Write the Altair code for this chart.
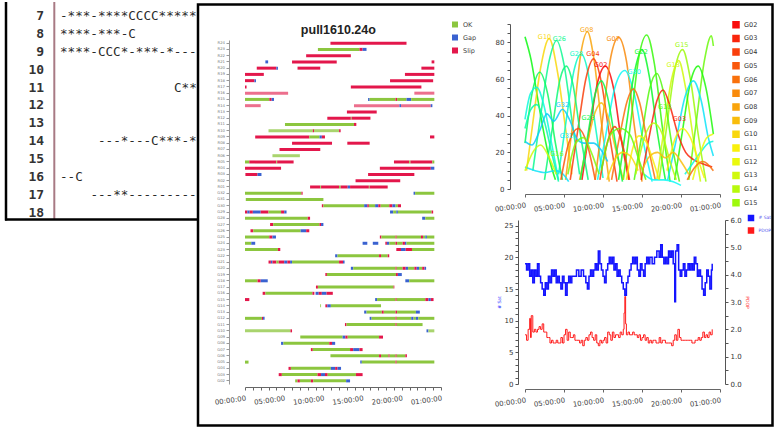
import altair as alt
import pandas as pd
import colorsys

# ---------------- background editor window ----------------
editor_numbers = [6, 7, 8, 9, 10, 11, 12, 13, 14, 15, 16, 17, 18]
editor_rows = [7, 8, 9, 11, 14, 16, 17]
editor_cols = [0, 0, 0, 15, 5, 0, 4]
editor_texts = ["-***-****CCCC*****-***", "****-***-C", "****-CCC*-***-*----",
                "C***-", "---*---C***-*-", "--C", "---**-----------"]

# ---------------- observation status chart ----------------
gantt_rows = ["R24", "R23", "R22", "R21", "R20", "R19", "R18", "R17", "R16", "R15", "R14", "R13",
              "R12", "R11", "R10", "R09", "R08", "R07", "R06", "R05", "R04", "R03", "R02", "R01",
              "G32", "G31", "G30", "G29", "G28", "G27", "G26", "G25", "G24", "G23", "G22", "G21",
              "G20", "G19", "G18", "G17", "G16", "G15", "G14", "G13", "G12", "G11", "G10", "G09",
              "G08", "G07", "G06", "G05", "G04", "G03", "G02"]
status_codes = {"O": "OK", "G": "Gap", "S": "Slip", "K": "OK-l", "L": "Slip-l"}
status_domain = ["OK", "Gap", "Slip", "OK-l", "Slip-l"]
status_colors = ["#8cc63f", "#3a62d0", "#e3174b", "#a9d46e", "#ec6f8d"]

r_segments = [
    ("R24", 10.9, 20.6, "S"),
    ("R23", 9.3, 14.6, "O"), ("R23", 14.6, 15.0, "S"), ("R23", 15.0, 15.5, "G"),
    ("R22", 7.8, 13.5, "S"),
    ("R21", 2.6, 2.95, "G"), ("R21", 6.0, 11.7, "S"), ("R21", 23.8, 24.15, "S"),
    ("R20", 1.5, 4.0, "S"), ("R20", 4.0, 4.2, "G"), ("R20", 6.7, 9.6, "S"), ("R20", 22.5, 24.15, "S"),
    ("R19", 0, 2.4, "S"), ("R19", 20.4, 24.15, "S"),
    ("R18", 0, 1.2, "S"), ("R18", 1.2, 1.4, "G"), ("R18", 18.5, 24.0, "S"),
    ("R17", 0, 0.2, "S"), ("R17", 13.5, 22.5, "S"),
    ("R16", 0, 5.5, "L"), ("R16", 21.6, 24.15, "L"),
    ("R15", 0, 3.1, "O"), ("R15", 3.1, 3.4, "S"), ("R15", 3.4, 3.7, "G"), ("R15", 15.7, 15.9, "G"),
    ("R15", 15.9, 19.2, "O"), ("R15", 19.2, 19.4, "S"), ("R15", 19.4, 20.6, "O"), ("R15", 20.6, 21.2, "G"),
    ("R15", 21.2, 24.15, "O"),
    ("R14", 0, 2.0, "L"), ("R14", 13.9, 19.7, "L"), ("R14", 19.7, 19.9, "G"), ("R14", 19.9, 23.7, "L"),
    ("R14", 23.7, 23.9, "G"),
    ("R13", 13.0, 16.8, "S"),
    ("R12", 10.5, 13.5, "S"), ("R12", 13.5, 13.6, "O"), ("R12", 13.6, 16.0, "S"),
    ("R11", 5.1, 13.9, "O"), ("R11", 13.9, 14.2, "S"),
    ("R10", 3.0, 8.65, "K"), ("R10", 8.65, 8.8, "S"), ("R10", 8.8, 12.0, "K"), ("R10", 12.0, 12.2, "S"),
    ("R09", 1.3, 8.2, "S"), ("R09", 8.2, 9.5, "O"), ("R09", 9.5, 9.8, "G"), ("R09", 9.8, 10.2, "S"),
    ("R09", 23.6, 24.15, "S"),
    ("R08", 6.0, 11.1, "S"), ("R08", 13.05, 15.9, "S"),
    ("R07", 4.4, 9.6, "S"),
    ("R06", 3.5, 7.0, "K"),
    ("R05", 0, 0.55, "O"), ("R05", 0.55, 4.0, "S"), ("R05", 4.0, 4.1, "O"), ("R05", 4.1, 6.2, "S"),
    ("R05", 19.0, 20.95, "S"), ("R05", 20.95, 21.1, "O"), ("R05", 21.1, 23.9, "S"), ("R05", 23.9, 24.15, "O"),
    ("R04", 0, 4.6, "S"), ("R04", 17.2, 23.7, "S"), ("R04", 23.7, 24.15, "G"),
    ("R03", 0.05, 1.6, "S"), ("R03", 1.6, 2.1, "G"), ("R03", 15.7, 21.6, "S"),
    ("R02", 14.1, 19.8, "S"),
    ("R01", 8.3, 9.6, "S"), ("R01", 9.6, 9.7, "O"), ("R01", 9.7, 12.0, "S"), ("R01", 12.0, 12.2, "O"),
    ("R01", 12.2, 13.1, "S"), ("R01", 13.1, 13.4, "G"), ("R01", 13.4, 15.8, "S"), ("R01", 15.8, 15.9, "O"),
    ("R01", 15.9, 18.2, "S"),
]
g_segments = [
    ("G32", 0, 7.2, "O"), ("G32", 7.2, 7.35, "S"), ("G32", 21.5, 21.7, "G"), ("G32", 21.7, 24.15, "O"),
    ("G31", 0.1, 10.0, "O"),
    ("G30", 9.8, 10.0, "S"), ("G30", 10.0, 15.2, "O"), ("G30", 15.2, 15.6, "G"), ("G30", 15.6, 15.8, "S"),
    ("G30", 15.8, 16.6, "O"), ("G30", 16.6, 17.0, "G"), ("G30", 17.0, 17.3, "S"), ("G30", 17.3, 18.4, "O"),
    ("G30", 18.4, 18.8, "S"), ("G30", 18.8, 19.2, "G"), ("G30", 19.2, 19.5, "O"), ("G30", 19.5, 19.9, "S"),
    ("G29", 0, 0.3, "S"), ("G29", 0.3, 0.6, "G"), ("G29", 0.6, 1.0, "S"), ("G29", 1.0, 2.0, "G"),
    ("G29", 2.0, 3.0, "S"), ("G29", 3.0, 4.6, "O"), ("G29", 4.6, 5.0, "S"), ("G29", 5.0, 5.3, "G"),
    ("G29", 18.5, 18.9, "G"), ("G29", 18.9, 19.3, "O"), ("G29", 19.3, 19.5, "G"), ("G29", 19.5, 23.8, "O"),
    ("G29", 23.8, 24.0, "S"),
    ("G28", 0, 8.0, "O"), ("G28", 8.0, 8.3, "S"), ("G28", 22.6, 23.0, "G"), ("G28", 23.0, 24.15, "O"),
    ("G27", 3.2, 3.6, "S"), ("G27", 3.6, 9.5, "O"), ("G27", 9.5, 9.7, "S"), ("G27", 9.7, 10.0, "G"),
    ("G26", 0.7, 1.05, "S"), ("G26", 1.05, 7.1, "O"), ("G26", 7.1, 7.8, "G"), ("G26", 7.8, 8.2, "S"),
    ("G25", 0, 3.1, "O"), ("G25", 3.1, 3.5, "S"), ("G25", 3.5, 3.95, "G"), ("G25", 17.2, 17.4, "S"),
    ("G25", 17.4, 19.2, "O"), ("G25", 19.2, 19.35, "S"), ("G25", 19.35, 22.45, "O"), ("G25", 22.45, 22.7, "S"),
    ("G25", 22.7, 23.0, "O"), ("G25", 23.0, 23.2, "G"), ("G25", 23.2, 24.15, "O"),
    ("G24", 0, 0.8, "O"), ("G24", 0.8, 1.3, "G"), ("G24", 15.0, 15.6, "G"), ("G24", 16.3, 17.0, "G"),
    ("G24", 17.9, 18.1, "S"), ("G24", 18.1, 18.4, "G"), ("G24", 18.4, 19.2, "O"), ("G24", 19.2, 19.4, "S"),
    ("G24", 19.4, 20.1, "O"), ("G24", 20.1, 20.4, "S"), ("G24", 20.4, 20.6, "G"), ("G24", 20.6, 24.15, "O"),
    ("G23", 0, 4.2, "O"), ("G23", 4.2, 4.5, "S"), ("G23", 19.3, 19.9, "S"), ("G23", 19.9, 20.5, "G"),
    ("G23", 20.5, 21.3, "S"), ("G23", 21.3, 24.15, "O"),
    ("G22", 11.5, 11.8, "G"), ("G22", 11.8, 17.1, "O"), ("G22", 17.1, 17.35, "S"), ("G22", 17.35, 18.2, "O"),
    ("G22", 18.2, 18.4, "S"),
    ("G21", 3.0, 3.3, "S"), ("G21", 3.3, 3.5, "G"), ("G21", 3.5, 4.0, "S"), ("G21", 4.0, 4.3, "O"),
    ("G21", 4.3, 5.0, "S"), ("G21", 5.0, 5.4, "G"), ("G21", 5.4, 5.75, "S"), ("G21", 5.75, 6.0, "G"),
    ("G21", 6.0, 12.0, "O"), ("G21", 12.0, 12.5, "S"), ("G21", 12.5, 12.7, "G"),
    ("G20", 13.5, 13.8, "G"), ("G20", 13.8, 19.2, "O"), ("G20", 19.2, 19.35, "S"), ("G20", 19.35, 20.1, "O"),
    ("G20", 20.1, 20.5, "S"), ("G20", 20.5, 20.8, "G"), ("G20", 20.8, 21.6, "O"), ("G20", 21.6, 21.9, "S"),
    ("G20", 21.9, 22.2, "G"), ("G20", 22.2, 22.6, "O"), ("G20", 22.6, 22.9, "S"), ("G20", 22.9, 23.1, "G"),
    ("G19", 10.25, 10.45, "S"), ("G19", 10.45, 19.25, "O"), ("G19", 19.25, 19.5, "S"), ("G19", 19.5, 20.0, "G"),
    ("G18", 0, 1.6, "O"), ("G18", 1.6, 2.0, "S"), ("G18", 2.0, 2.9, "G"), ("G18", 20.45, 20.95, "G"),
    ("G18", 20.95, 24.15, "O"),
    ("G17", 9.05, 9.3, "S"), ("G17", 9.3, 18.95, "O"), ("G17", 18.95, 19.05, "S"),
    ("G16", 2.25, 2.6, "S"), ("G16", 2.6, 8.6, "O"), ("G16", 8.6, 8.85, "S"), ("G16", 9.0, 9.4, "G"),
    ("G16", 9.4, 9.8, "S"), ("G16", 9.8, 10.4, "G"), ("G16", 10.4, 11.2, "S"),
    ("G15", 0, 0.55, "S"), ("G15", 16.6, 16.85, "G"), ("G15", 16.85, 19.2, "O"), ("G15", 19.2, 19.35, "S"),
    ("G15", 19.35, 23.0, "O"), ("G15", 23.0, 23.4, "S"), ("G15", 23.4, 23.7, "G"), ("G15", 23.7, 24.05, "S"),
    ("G14", 9.6, 9.7, "O"), ("G14", 10.25, 10.5, "S"), ("G14", 10.5, 10.95, "G"), ("G14", 10.95, 17.35, "O"),
    ("G13", 15.2, 15.5, "G"), ("G13", 15.5, 17.45, "O"), ("G13", 17.45, 17.7, "S"), ("G13", 17.7, 19.2, "O"),
    ("G13", 19.2, 19.4, "S"), ("G13", 19.4, 21.8, "O"), ("G13", 21.8, 22.3, "G"),
    ("G12", 0, 2.15, "O"), ("G12", 2.15, 2.3, "S"), ("G12", 2.3, 2.5, "G"), ("G12", 15.9, 16.15, "G"),
    ("G12", 16.15, 19.2, "O"), ("G12", 19.2, 19.35, "S"), ("G12", 19.35, 21.2, "O"), ("G12", 21.2, 21.5, "G"),
    ("G12", 21.5, 21.8, "O"), ("G12", 21.8, 22.1, "G"), ("G12", 22.1, 24.15, "O"),
    ("G11", 12.75, 12.95, "S"), ("G11", 12.95, 19.2, "O"), ("G11", 19.2, 19.35, "S"), ("G11", 19.35, 22.65, "O"),
    ("G10", 0, 5.8, "K"), ("G10", 5.8, 6.0, "S"), ("G10", 23.15, 23.4, "G"), ("G10", 23.4, 24.15, "K"),
    ("G09", 7.05, 12.45, "O"), ("G09", 12.45, 12.8, "G"), ("G09", 12.8, 13.1, "S"), ("G09", 13.1, 17.1, "O"),
    ("G09", 17.1, 17.6, "S"),
    ("G08", 4.6, 4.9, "G"), ("G08", 4.9, 10.75, "O"), ("G08", 10.75, 11.1, "S"), ("G08", 11.1, 11.5, "G"),
    ("G07", 8.4, 8.65, "S"), ("G07", 8.65, 13.4, "O"), ("G07", 13.4, 13.8, "S"), ("G07", 13.8, 14.6, "G"),
    ("G07", 14.6, 15.0, "S"),
    ("G06", 10.9, 17.1, "O"), ("G06", 17.1, 17.35, "S"), ("G06", 17.35, 18.3, "O"), ("G06", 18.3, 18.45, "S"),
    ("G06", 18.45, 19.2, "O"), ("G06", 19.2, 19.35, "S"), ("G06", 19.35, 20.45, "O"), ("G06", 20.45, 20.65, "S"),
    ("G05", 0, 0.45, "O"), ("G05", 14.7, 14.9, "G"), ("G05", 14.9, 19.2, "O"), ("G05", 19.2, 19.35, "S"),
    ("G05", 19.35, 24.15, "O"),
    ("G04", 5.55, 5.85, "S"), ("G04", 5.85, 10.95, "O"), ("G04", 10.95, 11.5, "G"), ("G04", 11.5, 11.8, "S"),
    ("G04", 11.8, 12.25, "G"),
    ("G03", 4.3, 4.7, "S"), ("G03", 4.7, 9.25, "O"), ("G03", 9.25, 9.7, "S"), ("G03", 9.7, 10.2, "G"),
    ("G03", 10.2, 10.55, "S"), ("G03", 10.55, 14.15, "O"), ("G03", 14.15, 15.0, "S"),
    ("G02", 6.4, 6.7, "O"), ("G02", 6.7, 7.0, "S"), ("G02", 7.0, 8.4, "O"), ("G02", 8.4, 8.7, "S"),
    ("G02", 8.7, 12.9, "O"), ("G02", 12.9, 13.4, "G"),
]

# ---------------- elevation chart ----------------
sat_names = ["G02", "G03", "G04", "G05", "G06", "G07", "G08", "G09", "G10", "G11", "G12", "G13", "G14",
             "G15", "G16", "G17", "G18", "G19", "G20", "G21", "G22", "G23", "G24", "G25", "G26", "G27",
             "G28", "G29", "G30", "G31", "G32"]
legend_sats = ["G02", "G03", "G04", "G05", "G06", "G07", "G08", "G09", "G10", "G11", "G12", "G13", "G14", "G15"]
sky_passes = [
    ("G21", [(0, 83), (0.8, 70), (1.6, 50), (2.4, 31), (3.2, 15), (3.9, 5)]),
    ("G10", [(0.2, 10), (1.0, 36), (2.0, 66), (3.1, 82), (4.2, 63), (5.2, 33), (6.0, 8)]),
    ("G26", [(1.0, 10), (2.0, 40), (3.1, 70), (4.06, 81), (5.0, 68), (6.0, 38), (7.0, 8)]),
    ("G28", [(4.3, 8), (5.3, 38), (6.3, 65), (7.2, 73.6), (8.1, 63), (9.0, 35), (10.0, 6)]),
    ("G08", [(5.2, 5), (6.2, 38), (7.2, 75), (8.0, 85.8), (8.8, 72), (9.8, 36), (10.8, 4)]),
    ("G04", [(5.8, 5), (6.8, 33), (7.8, 60), (8.8, 71), (9.8, 58), (10.8, 30), (11.8, 4)]),
    ("G02", [(7.3, 5), (8.3, 33), (9.3, 58), (10.3, 67), (11.3, 56), (12.3, 28), (13.3, 5)]),
    ("G07", [(9.0, 5), (10.0, 40), (11.0, 72), (12.0, 82.7), (13.0, 70), (14.0, 35), (15.0, 4)]),
    ("G30", [(9.3, 5), (10.3, 28), (11.5, 55), (12.8, 64.6), (14.0, 52), (15.2, 25), (16.3, 4)]),
    ("G22", [(12.0, 5), (13.0, 35), (14.0, 63), (15.0, 76), (16.0, 60), (17.0, 30), (18.0, 5)]),
    ("G19", [(12.6, 5), (13.6, 38), (14.6, 72), (15.6, 84), (16.6, 68), (17.6, 34), (18.6, 4)]),
    ("G15", [(17.2, 5), (18.2, 35), (19.2, 65), (20.2, 76), (21.2, 60), (22.2, 30), (23.2, 4)]),
    ("G13", [(16.9, 5), (17.8, 32), (18.8, 60), (19.7, 70), (20.6, 55), (21.6, 27), (22.5, 4)]),
    ("G17", [(21.0, 5), (22.0, 38), (23.0, 70), (23.9, 83.6), (24.15, 78)]),
    ("G20", [(19.2, 5), (20.2, 32), (21.2, 58), (22.2, 67), (23.2, 55), (24.15, 30)]),
    ("G31", [(18.3, 5), (19.3, 25), (20.5, 50), (21.6, 59), (22.6, 48), (23.5, 28), (24.15, 18)]),
    ("G18", [(14.0, 5), (15.0, 30), (16.0, 55), (16.9, 63), (17.8, 52), (18.8, 25), (19.8, 4)]),
    ("G03", [(14.9, 5), (15.9, 28), (16.9, 48), (17.7, 54), (18.6, 45), (19.6, 30), (20.6, 20), (21.6, 16),
             (22.6, 14), (24.0, 12)]),
    ("G06", [(11.1, 5), (12.1, 28), (13.1, 48), (13.9, 54.6), (14.7, 47), (15.7, 25), (16.7, 5)]),
    ("G09", [(7.0, 5), (8.0, 25), (9.0, 42), (9.8, 47), (10.6, 40), (11.6, 22), (12.6, 5)]),
    ("G23", [(7.1, 5), (8.0, 28), (9.0, 52), (9.8, 59), (10.6, 50), (11.6, 25), (12.5, 4)]),
    ("G25", [(2.5, 5), (3.5, 33), (4.5, 60), (5.3, 67), (6.1, 58), (7.1, 30), (8.1, 5)]),
    ("G24", [(0, 25), (0.9, 52), (1.9, 63.7), (2.9, 52), (3.9, 25), (4.8, 5)]),
    ("G29", [(0, 38), (0.7, 52), (1.5, 55.5), (2.4, 46), (3.4, 25), (4.3, 5)]),
    ("G27", [(0, 33), (0.7, 43), (1.5, 46), (2.4, 38), (3.4, 20), (4.3, 4)]),
    ("G32", [(0, 26), (0.9, 24), (1.9, 32), (2.8, 41), (3.7, 37), (4.8, 43.5), (5.8, 37), (6.7, 27),
             (7.6, 25), (8.8, 25), (9.8, 21), (10.6, 15)]),
    ("G31", [(0, 12), (1.3, 10), (2.6, 9), (3.9, 10), (4.9, 8), (5.6, 4)]),
    ("G30", [(15.3, 8), (16.5, 5), (17.8, 5), (19.0, 4), (20.0, 2)]),
    ("G29", [(20.5, 8), (21.5, 14), (22.5, 20), (23.5, 25), (24.15, 26)]),
    ("G05", [(4.6, 5), (5.6, 25), (6.8, 33), (8.0, 24), (9.0, 5)]),
    ("G04", [(9.6, 5), (10.6, 26), (11.5, 34), (12.4, 26), (13.4, 5)]),
    ("G11", [(13.0, 5), (13.8, 22), (14.6, 29), (15.5, 26), (16.3, 17), (17.2, 5)]),
    ("G11", [(18.2, 10), (19.2, 27), (20.2, 33), (21.2, 28), (22.2, 16), (23.0, 6)]),
    ("G14", [(14.2, 8), (15.3, 28), (16.5, 36), (17.6, 30), (18.6, 15), (19.4, 5)]),
    ("G09", [(15.0, 10), (16.0, 18), (17.0, 20), (18.0, 17), (19.0, 20), (20.0, 15), (21.0, 8)]),
    ("G12", [(21.5, 5), (22.5, 20), (23.3, 28), (24.15, 30)]),
    ("G16", [(5.5, 8), (6.5, 25), (7.5, 28), (8.5, 20), (9.5, 8)]),
    ("G06", [(20.8, 5), (21.8, 12), (22.8, 15), (24.15, 10)]),
    ("G10", [(10.5, 5), (11.5, 16), (12.5, 20), (13.5, 18), (14.5, 10)]),
    ("G13", [(0, 10), (1.0, 20), (2.0, 24), (3.0, 18), (4.0, 8)]),
    ("G17", [(9.8, 10), (11.0, 30), (12.2, 33), (13.4, 30), (14.6, 16), (15.5, 5)]),
]
sky_label_sats = ["G10", "G26", "G08", "G28", "G04", "G07", "G02", "G30", "G22", "G15", "G13",
                  "G32", "G23", "G31", "G16", "G18", "G03"]
sky_label_h = [2.5, 4.4, 7.9, 6.6, 8.7, 11.3, 9.7, 14.0, 14.9, 20.1, 19.0, 4.8, 8.1, 5.3, 4.1, 17.9, 19.8]
sky_label_e = [83, 82, 87, 73.5, 73.5, 82, 67.5, 64, 74.5, 78.5, 67.5, 46, 39, 29, 19, 45, 38]

# ---------------- satellites / PDOP chart ----------------
nsat_h = [0.0, 0.2, 0.4, 0.6, 0.8, 1.0, 1.2, 1.4, 1.6, 1.8, 2.0, 2.2, 2.4, 2.6, 2.8, 3.0, 3.2, 3.4, 3.6,
          3.8, 4.0, 4.2, 4.4, 4.6, 4.8, 5.0, 5.2, 5.4, 5.6, 5.8, 6.0, 6.3, 6.6, 6.9, 7.2, 7.5, 7.8, 8.0,
          8.2, 8.4, 8.6, 8.8, 9.0, 9.2, 9.4, 9.6, 9.8, 10.0, 10.2, 10.4, 10.6, 10.8, 11.0, 11.2, 11.4,
          11.6, 11.8, 12.0, 12.2, 12.4, 12.6, 12.8, 13.0, 13.2, 13.4, 13.6, 13.8, 14.0, 14.2, 14.4, 14.6,
          14.8, 15.0, 15.2, 15.4, 15.6, 15.8, 16.0, 16.3, 16.6, 16.9, 17.2, 17.4, 17.6, 17.8, 18.0, 18.2,
          18.4, 18.6, 18.8, 19.0, 19.2, 19.3, 19.5, 19.7, 19.9, 20.1, 20.3, 20.5, 20.7, 20.9, 21.1, 21.3,
          21.5, 21.7, 21.9, 22.1, 22.3, 22.5, 22.7, 22.9, 23.1, 23.3, 23.5, 23.7, 23.9, 24.0]
nsat_v = [19, 18, 19, 17, 18, 16, 18, 17, 19, 17, 16, 15, 14, 16, 15, 17, 16, 18, 17,
          18, 16, 17, 16, 15, 17, 16, 14, 16, 17, 16, 17, 17, 18, 17, 18, 17, 16, 15,
          17, 18, 17, 18, 19, 18, 21, 19, 18, 17, 16, 18, 19, 20, 19, 20, 18,
          19, 17, 18, 17, 16, 15, 14, 16, 17, 18, 19, 20, 19, 20, 18, 17,
          19, 18, 17, 19, 20, 19, 20, 19, 20, 21, 20, 22, 20, 19, 20, 19,
          21, 20, 21, 19, 13, 21, 22, 18, 17, 18, 19, 17, 18, 19, 18, 19,
          18, 20, 19, 17, 18, 17, 15, 14, 16, 18, 17, 15, 18, 19]
pdop_h = [0.0, 0.2, 0.4, 0.6, 0.7, 0.8, 1.0, 1.2, 1.4, 1.6, 1.8, 2.0, 2.2, 2.4, 2.6, 2.8, 3.0, 3.2, 3.4,
          3.6, 3.8, 4.0, 4.2, 4.4, 4.6, 4.8, 5.0, 5.2, 5.4, 5.6, 5.8, 6.0, 6.2, 6.4, 6.6, 6.8, 7.0, 7.2,
          7.4, 7.6, 7.8, 8.0, 8.2, 8.4, 8.6, 8.8, 9.0, 9.2, 9.4, 9.6, 9.8, 10.0, 10.2, 10.4, 10.6, 10.8,
          11.0, 11.2, 11.4, 11.6, 11.8, 12.0, 12.2, 12.4, 12.6, 12.7, 12.8, 12.9, 13.0, 13.2, 13.4, 13.6,
          13.8, 14.0, 14.2, 14.4, 14.6, 14.8, 15.0, 15.2, 15.4, 15.6, 15.8, 16.0, 16.2, 16.4, 16.6, 16.8,
          17.0, 17.2, 17.4, 17.6, 17.8, 18.0, 18.2, 18.4, 18.6, 18.8, 19.0, 19.2, 19.4, 19.6, 19.8, 20.0,
          20.2, 20.4, 20.6, 20.8, 21.0, 21.2, 21.4, 21.6, 21.8, 22.0, 22.2, 22.4, 22.6, 22.8, 23.0, 23.2,
          23.4, 23.6, 23.8, 24.0]
pdop_v = [1.8, 1.6, 2.0, 2.4, 1.7, 2.5, 1.9, 2.0, 1.9, 2.0, 2.1, 2.0, 2.2, 1.9, 1.9, 1.7, 1.7, 1.5, 1.6,
          1.5, 1.5, 1.6, 1.5, 1.5, 1.7, 1.5, 1.8, 2.0, 1.6, 1.9, 1.7, 1.7, 1.8, 1.6, 1.6, 1.6, 1.5, 1.6,
          1.4, 1.6, 1.7, 1.6, 1.8, 1.9, 1.7, 1.6, 1.8, 1.5, 1.4, 1.6, 1.5, 1.6, 1.7, 1.5, 1.9, 1.8,
          1.6, 1.9, 1.7, 1.8, 1.8, 1.7, 1.9, 1.8, 2.0, 2.6, 3.2, 2.2, 1.8, 1.9, 1.8, 1.8,
          1.9, 1.8, 1.8, 1.7, 1.8, 1.6, 1.7, 1.8, 1.6, 1.7, 1.5, 1.6, 1.5, 1.6, 1.6, 1.5,
          1.5, 1.7, 1.5, 1.6, 1.6, 1.5, 1.5, 1.5, 1.5, 1.4, 1.6, 1.8, 1.6, 2.0, 1.7, 1.6,
          1.6, 1.6, 1.6, 1.6, 1.6, 1.6, 1.5, 1.5, 1.6, 1.6, 1.7, 1.6, 1.7, 1.9, 1.7, 1.8,
          1.7, 1.9, 1.8, 2.0]

# ============== build tables ==============
ed_df = pd.DataFrame({"line": editor_rows, "col": editor_cols, "text": editor_texts})
num_df = pd.DataFrame({"line": editor_numbers, "col": [-2.1] * len(editor_numbers),
                       "label": [str(n) for n in editor_numbers]})
sep_df = pd.DataFrame({"col": [-0.75]})
one = pd.DataFrame({"k": [0]})

seg = r_segments + g_segments
gdf = pd.DataFrame({"row": [s[0] for s in seg], "start": [s[1] for s in seg],
                    "end": [s[2] for s in seg], "status": [status_codes[s[3]] for s in seg]})

sky_rows = []
for pid, (sat, pts) in enumerate(sky_passes):
    for h, e in pts:
        sky_rows.append({"sat": sat, "pass": pid, "h": h, "e": e})
sky_df = pd.DataFrame(sky_rows)
lbl_df = pd.DataFrame({"sat": sky_label_sats, "h": sky_label_h, "e": sky_label_e})
# legend-only keys, placed outside the plot and clipped away
leg_df = pd.DataFrame({"sat": legend_sats, "h": [-10.0] * len(legend_sats), "e": [-250.0] * len(legend_sats)})


def hsv_hex(i):
    r, g, b = colorsys.hsv_to_rgb((i * 6.4) / 360.0, 0.95, 0.98)
    return "#%02x%02x%02x" % (int(r * 255), int(g * 255), int(b * 255))


sat_colors = [hsv_hex(i) for i in range(len(sat_names))]

nsat_df = pd.DataFrame({"h": nsat_h, "v": nsat_v, "series": "# Sat"})
pdop_df = pd.DataFrame({"h": pdop_h, "v": pdop_v, "series": "PDOP"})
dop_leg_df = pd.DataFrame({"series": ["# Sat", "PDOP"], "h": [-10.0, -10.0], "v": [-50.0, -50.0]})

TIME_EXPR = ("datum.value % 5 == 0 ? (datum.value == 25 ? '01:00:00' : "
             "(datum.value < 10 ? '0' : '') + datum.value + ':00:00') : ''")
TIME_EXPR5 = "datum.value == 25 ? '01:00:00' : (datum.value < 10 ? '0' : '') + datum.value + ':00:00'"


def time_axis(offset):
    return alt.Axis(title=None, values=list(range(26)), labelExpr=TIME_EXPR,
                    labelAngle=352, labelAlign="right", labelBaseline="top", labelFontSize=7,
                    labelColor="#444", labelOverlap=False, labelFlush=False, labelPadding=4, tickSize=3,
                    tickColor="#666", domainColor="#666", offset=offset, grid=False)


def time_axis5(offset):
    return alt.Axis(title=None, values=[0, 5, 10, 15, 20, 25], labelExpr=TIME_EXPR5,
                    labelAngle=352, labelAlign="right", labelBaseline="top", labelFontSize=7,
                    labelColor="#444", labelOverlap=False, labelFlush=False, labelPadding=4, tickSize=3,
                    tickColor="#666", domainColor="#666", offset=offset, grid=False)


def time_scale(width):
    return alt.Scale(domain=[0, 25], range=[0, width], nice=False, zero=False)


# ============== editor panel (x 0..196, y 0..217) ==============
ed_x = alt.Scale(domain=[-7.895, 17.895], nice=False, zero=False)
ed_y = alt.Scale(domain=[6.217, 18.353], nice=False, zero=False, reverse=True)
ed_text = alt.Chart(ed_df).mark_text(align="left", baseline="middle", font="DejaVu Sans Mono",
                                     fontSize=12.6, color="#2a2a2a", clip=True).encode(
    x=alt.X("col:Q", scale=ed_x, axis=None),
    y=alt.Y("line:Q", scale=ed_y, axis=None),
    text="text:N")
ed_nums = alt.Chart(num_df).mark_text(align="right", baseline="middle", font="DejaVu Sans Mono",
                                      fontSize=13, fontWeight="bold", color="#333", clip=True).encode(
    x=alt.X("col:Q", axis=None), y=alt.Y("line:Q", axis=None), text="label:N")
ed_sep = alt.Chart(sep_df).mark_rule(color="#a87a84", strokeWidth=2).encode(
    x=alt.X("col:Q", axis=None), y=alt.value(0), y2=alt.value(217))
ed_left = alt.Chart(one).mark_rule(color="black", strokeWidth=2.5).encode(
    x=alt.value(6), y=alt.value(0), y2=alt.value(218.5))
ed_bottom = alt.Chart(one).mark_rule(color="black", strokeWidth=2.5).encode(
    x=alt.value(5), x2=alt.value(198), y=alt.value(217.5))
window = alt.Chart(one).mark_rect(fillOpacity=0, stroke="black", strokeWidth=2.5).encode(
    x=alt.value(198), x2=alt.value(772.5), y=alt.value(2.5), y2=alt.value(423.5))
editor = alt.layer(ed_text, ed_nums, ed_sep, ed_left, ed_bottom, window).properties(width=196, height=217)

# ============== gantt panel (view x 245.., plot 245..441, rows y 38..382) ==============
gantt = alt.Chart(gdf).mark_bar(size=3).encode(
    x=alt.X("start:Q", scale=time_scale(196), axis=time_axis(198)),
    x2="end:Q",
    y=alt.Y("row:N", scale=alt.Scale(domain=gantt_rows, range=[38, 382], paddingInner=0, paddingOuter=0),
            axis=alt.Axis(title=None, offset=16, labelFontSize=3.8, labelColor="#777", tickSize=3,
                          tickColor="#999", domainColor="#999", labelPadding=1.5)),
    color=alt.Color("status:N", scale=alt.Scale(domain=status_domain, range=status_colors),
                    legend=alt.Legend(title=None, values=["OK", "Gap", "Slip"], orient="none",
                                      legendX=206, legendY=18.5, symbolType="square", symbolSize=36,
                                      labelFontSize=6.5, labelColor="#444", rowPadding=5, padding=0,
                                      labelOffset=4)),
).properties(width=231, height=187,
             title=alt.TitleParams("pull1610.24o", font="Liberation Sans", fontSize=12.5,
                                   fontWeight="bold", color="#222", offset=-34, anchor="start", dx=87))

# ============== elevation panel (view x 525..720, y 0..187) ==============
sat_scale = alt.Scale(domain=sat_names, range=sat_colors)
sky_legend = alt.Legend(title=None, values=legend_sats, orient="none", legendX=207, legendY=18.7,
                        symbolType="square", symbolSize=36, labelFontSize=6.5, labelColor="#333",
                        rowPadding=1.7, padding=0, labelOffset=4)
sky_x = alt.X("h:Q", scale=time_scale(195), axis=time_axis5(5))
sky_y = alt.Y("e:Q", scale=alt.Scale(domain=[0, 90], range=[187, 22], nice=False),
              axis=alt.Axis(title=None, values=list(range(0, 91, 5)),
                            labelExpr="datum.value % 20 == 0 ? datum.label : ''", offset=15,
                            labelFontSize=7, labelColor="#333", tickSize=3, tickColor="#555",
                            domainColor="#555", grid=False, labelPadding=3, labelOverlap=False))
sky_leg = alt.Chart(leg_df).mark_point(shape="square", filled=True, size=36, clip=True, opacity=1).encode(
    x=sky_x, y=sky_y, color=alt.Color("sat:N", scale=sat_scale, legend=sky_legend))
sky_lines = alt.Chart(sky_df).mark_line(interpolate="monotone", strokeWidth=1.6, opacity=0.85).encode(
    x=sky_x, y=sky_y, color=alt.Color("sat:N", scale=sat_scale, legend=sky_legend), detail="pass:N")
sky_text = alt.Chart(lbl_df).mark_text(fontSize=6.5, baseline="middle").encode(
    x=sky_x, y=sky_y, text="sat:N", color=alt.Color("sat:N", scale=sat_scale, legend=sky_legend))
sky = alt.layer(sky_leg, sky_lines, sky_text).properties(width=195, height=187)

# ============== satellites / PDOP panel (view x 525..720, y 218..382) ==============
dop_color = alt.Scale(domain=["# Sat", "PDOP"], range=["#1414ff", "#ff1a1a"])
dop_legend = alt.Legend(title=None, orient="none", legendX=222.5, legendY=-5.5, symbolType="square",
                        symbolSize=25, labelFontSize=4.5, labelColor="#5555ee", rowPadding=1.5,
                        padding=0, labelOffset=4)
dop_x = alt.X("h:Q", scale=time_scale(195), axis=time_axis5(5))
dop_leg = alt.Chart(dop_leg_df).mark_point(shape="square", filled=True, size=25, clip=True, opacity=1).encode(
    x=dop_x,
    y=alt.Y("v:Q", scale=alt.Scale(domain=[0, 1]), axis=None),
    color=alt.Color("series:N", scale=dop_color, legend=dop_legend))
blue = alt.Chart(nsat_df).mark_line(interpolate="step-after", strokeWidth=1.5).encode(
    x=dop_x,
    y=alt.Y("v:Q", scale=alt.Scale(domain=[0, 25.9], nice=False),
            axis=alt.Axis(orient="left", title="# Sat", titleColor="#3030ff", titleFontSize=4.5,
                          titleFontWeight="normal", values=list(range(26)),
                          labelExpr="datum.value % 5 == 0 ? datum.label : ''", offset=7,
                          labelFontSize=7, labelColor="#333", tickSize=3, tickColor="#555",
                          domainColor="#555", grid=False, titlePadding=3, labelOverlap=False)),
    color=alt.Color("series:N", scale=dop_color, legend=dop_legend))
red = alt.Chart(pdop_df).mark_line(interpolate="step-after", strokeWidth=1).encode(
    x=dop_x,
    y=alt.Y("v:Q", scale=alt.Scale(domain=[0, 6], nice=False),
            axis=alt.Axis(orient="right", title="PDOP", titleColor="#ff3030", titleFontSize=4.5,
                          titleFontWeight="normal", values=[i * 0.5 for i in range(13)],
                          labelExpr="datum.value % 1 == 0 ? datum.label : ''", offset=5,
                          labelFontSize=7, labelColor="#333", tickSize=3, tickColor="#555",
                          domainColor="#555", grid=False, titlePadding=3, labelOverlap=False)),
    color=alt.Color("series:N", scale=dop_color, legend=dop_legend))
dop = alt.layer(dop_leg, blue, red).resolve_scale(y="independent").properties(width=195, height=164)


def spacer(w, h):
    return alt.Chart(one).mark_point(opacity=0).encode(
        x=alt.X("k:Q", axis=None), y=alt.Y("k:Q", axis=None)).properties(width=w, height=h)


# ============== assemble: 3-column grid ==============
chart = alt.concat(editor, gantt, sky, spacer(196, 10), spacer(231, 10), dop, columns=3,
                   spacing={"row": 1, "column": 49}, bounds="flush", align="each").resolve_scale(
    color="independent").properties(padding=0, background="white").configure(
    font="DejaVu Sans").configure_view(stroke=None)

chart.save("out.html", embed_options={"renderer": "svg", "actions": False})
